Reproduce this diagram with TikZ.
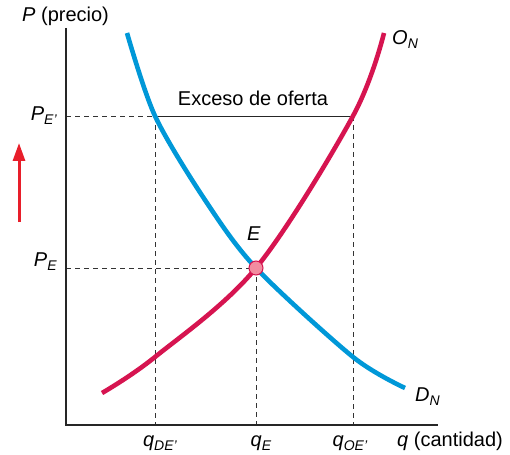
\documentclass[tikz,border=0pt]{standalone}
\usepackage{fontspec}
\setmainfont{Liberation Sans}
\usetikzlibrary{arrows.meta}
\definecolor{demblue}{RGB}{0,152,216}
\definecolor{supred}{RGB}{214,20,80}
\definecolor{ptfill}{RGB}{242,140,160}
\definecolor{arrred}{RGB}{232,30,42}
\newcommand{\lbl}[2]{\textit{#1}\raisebox{-4pt}{\fontsize{14}{14}\selectfont\textit{#2}}}
\begin{document}
\begin{tikzpicture}[x=1pt,y=-1pt,
  txt/.style={font=\fontsize{20}{24}\selectfont, inner sep=0pt},
  axisline/.style={line width=1.2pt, black!85},
  guide/.style={line width=0.9pt, black!80, dash pattern=on 5pt off 4pt},
  solidguide/.style={line width=0.9pt, black!85},
  curveD/.style={line width=4.6pt, demblue},
  curveS/.style={line width=4.6pt, supred}]
\useasboundingbox (0,0) rectangle (510,454);
% key coordinates
\coordinate (org) at (66,425);
\coordinate (ytop) at (66,28);
\coordinate (xend) at (438,425);
\coordinate (pe1) at (66,116);
\coordinate (pe) at (66,268);
\coordinate (dE1) at (155,116);
\coordinate (sE1) at (353,116);
\coordinate (Ept) at (256,268);
\coordinate (qd) at (155,425);
\coordinate (qe) at (256,425);
\coordinate (qo) at (353,425);
% guides
\draw[guide] (pe1) -- (dE1);
\draw[solidguide] (dE1) -- (sE1);
\draw[guide] (dE1) -- (qd);
\draw[guide] (sE1) -- (qo);
\draw[guide] (pe) -- (Ept);
\draw[guide] (Ept) -- (qe);
% axes
\draw[axisline] (ytop) -- (org) -- (xend);
% curves
\draw[curveD] plot[smooth, tension=0.5] coordinates {(127,33) (155,116) (205,200) (256,268) (353,357) (405,388)};
\draw[curveS] plot[smooth, tension=0.55] coordinates {(102,393) (155,357) (256,268) (353,116) (384,33)};
% equilibrium point
\node[circle, minimum size=14pt, inner sep=0pt, fill=ptfill, draw=supred, line width=1pt] (E) at (Ept) {};
% arrow
\coordinate (a0) at (19,222);
\coordinate (a1) at (19,143);
\draw[arrred, line width=3pt, -{Triangle[width=12pt,length=18pt]}] (a0) -- (a1);
% labels
\node[txt, anchor=base west] (ylab) at (22,22) {\textit{P} (precio)};
\node[txt, anchor=base west] (xlab) at (397,446) {\textit{q} (cantidad)};
\node[txt, anchor=base] (exc) at (253,106) {Exceso de oferta};
\node[txt, anchor=base east] (lpe1) at (57,121) {\lbl{P}{E'}};
\node[txt, anchor=base east] (lpe) at (57,266) {\lbl{P}{E}};
\node[txt, anchor=base] (lqd) at (160,446) {\lbl{q}{DE'}};
\node[txt, anchor=base] (lqe) at (261,446) {\lbl{q}{E}};
\node[txt, anchor=base] (lqo) at (350,446) {\lbl{q}{OE'}};
\node[txt, anchor=base] (lE) at (254,240) {\textit{E}};
\node[txt, anchor=base west] (lON) at (392,45) {\lbl{O}{N}};
\node[txt, anchor=base west] (lDN) at (415,401) {\lbl{D}{N}};
\end{tikzpicture}
\end{document}
